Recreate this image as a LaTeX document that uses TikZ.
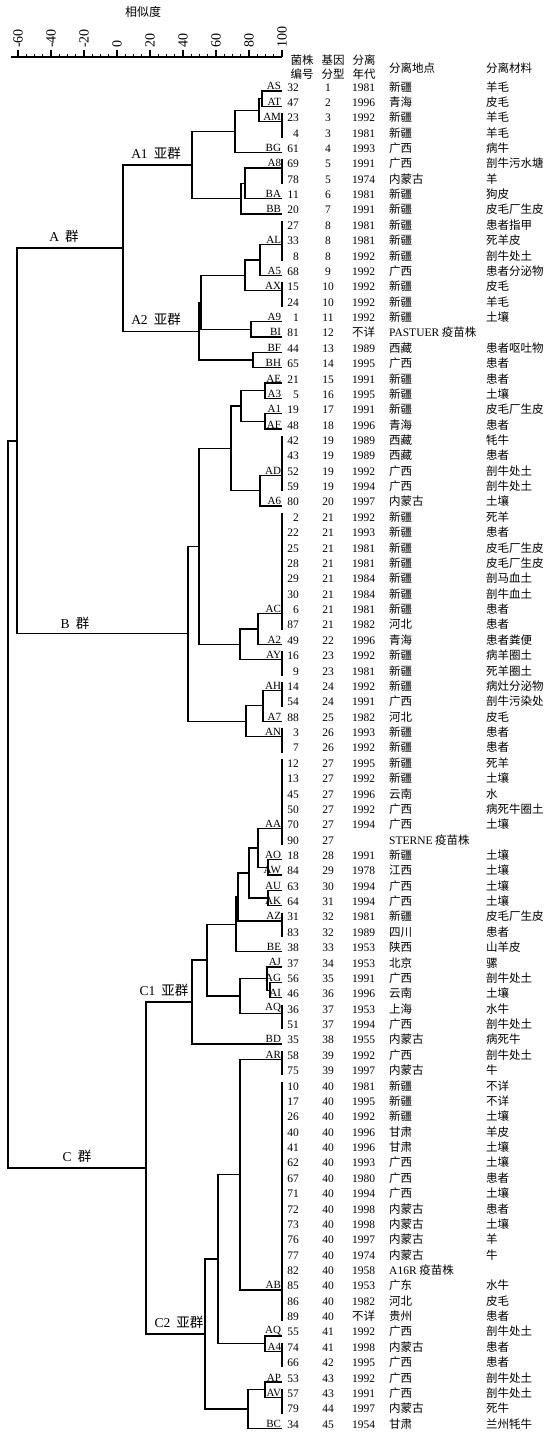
\documentclass[tikz,border=0pt]{standalone}
\usepackage{fontspec}
\setmainfont{Liberation Serif}
\newfontfamily\zh{Noto Sans CJK SC}
\begin{document}
\begin{tikzpicture}[x=1pt,y=-1pt,
  tree/.style={line width=1.3pt},
  leaflab/.style={anchor=south east,inner sep=0.8pt,font=\fontsize{11}{12}\selectfont},
  grplab/.style={anchor=south,inner sep=0pt,yshift=5pt,font=\fontsize{13.5}{15}\selectfont},
  numcol/.style={inner sep=0pt,font=\fontsize{11.5}{13}\selectfont},
  zhcol/.style={inner sep=0pt,anchor=base west,font=\fontsize{11.5}{13}\zh},
  head/.style={inner sep=0pt,align=center,font=\fontsize{11.5}{14}\zh},
  ticklab/.style={rotate=90,anchor=west,inner sep=0pt,font=\fontsize{14}{16}\selectfont}]
\useasboundingbox (0,0) rectangle (550,1433);

% similarity scale
\node[font=\fontsize{12}{14}\zh] (title) at (143,12) {相似度};
\draw[line width=1.8pt] (11,57) -- (282,57);
\foreach \s in {-60,-55,...,100}
  \draw[line width=1pt] ({117+1.65*(\s)},57) -- ++(0,-3);
\foreach \s [count=\k] in {-60,-40,...,100} {
  \draw[line width=1.2pt] ({117+1.65*(\s)},57) -- ++(0,-7);
  \node[ticklab] (tk\k) at ({117+1.65*(\s)},48) {\s};
}

% column heads
\node[head] (h1) at (302,67) {菌株\\编号};
\node[head] (h2) at (333,67) {基因\\分型};
\node[head] (h3) at (364,67) {分离\\年代};
\node[head,anchor=west] (h4) at (389,68) {分离地点};
\node[head,anchor=west] (h5) at (486,68) {分离材料};

\begin{scope}[yshift=-91pt,y=-15.37pt]
% strain table
\foreach \num/\gn/\yr/\pl/\mt [count=\k from 0] in {
  32/1/1981/新疆/羊毛, 47/2/1996/青海/皮毛, 23/3/1992/新疆/羊毛, 4/3/1981/新疆/羊毛,
  61/4/1993/广西/病牛, 69/5/1991/广西/剖牛污水塘, 78/5/1974/内蒙古/羊, 11/6/1981/新疆/狗皮,
  20/7/1991/新疆/皮毛厂生皮, 27/8/1981/新疆/患者指甲, 33/8/1981/新疆/死羊皮, 8/8/1992/新疆/剖牛处土,
  68/9/1992/广西/患者分泌物, 15/10/1992/新疆/皮毛, 24/10/1992/新疆/羊毛, 1/11/1992/新疆/土壤,
  81/12/{\zh 不详}/{\rmfamily PASTUER} 疫苗株/{}, 44/13/1989/西藏/患者呕吐物, 65/14/1995/广西/患者,
  21/15/1991/新疆/患者, 5/16/1995/新疆/土壤, 19/17/1991/新疆/皮毛厂生皮, 48/18/1996/青海/患者,
  42/19/1989/西藏/牦牛, 43/19/1989/西藏/患者, 52/19/1992/广西/剖牛处土, 59/19/1994/广西/剖牛处土,
  80/20/1997/内蒙古/土壤, 2/21/1992/新疆/死羊, 22/21/1993/新疆/患者, 25/21/1981/新疆/皮毛厂生皮,
  28/21/1981/新疆/皮毛厂生皮, 29/21/1984/新疆/剖马血土, 30/21/1984/新疆/剖牛血土, 6/21/1981/新疆/患者,
  87/21/1982/河北/患者, 49/22/1996/青海/患者粪便, 16/23/1992/新疆/病羊圈土, 9/23/1981/新疆/死羊圈土,
  14/24/1992/新疆/病灶分泌物, 54/24/1991/广西/剖牛污染处, 88/25/1982/河北/皮毛, 3/26/1993/新疆/患者,
  7/26/1992/新疆/患者, 12/27/1995/新疆/死羊, 13/27/1992/新疆/土壤, 45/27/1996/云南/水,
  50/27/1992/广西/病死牛圈土, 70/27/1994/广西/土壤, 90/27/{}/{\rmfamily STERNE} 疫苗株/{},
  18/28/1991/新疆/土壤, 84/29/1978/江西/土壤, 63/30/1994/广西/土壤, 64/31/1994/广西/土壤,
  31/32/1981/新疆/皮毛厂生皮, 83/32/1989/四川/患者, 38/33/1953/陕西/山羊皮, 37/34/1953/北京/骡,
  56/35/1991/广西/剖牛处土, 46/36/1996/云南/土壤, 36/37/1953/上海/水牛, 51/37/1994/广西/剖牛处土,
  35/38/1955/内蒙古/病死牛, 58/39/1992/广西/剖牛处土, 75/39/1997/内蒙古/牛, 10/40/1981/新疆/不详,
  17/40/1995/新疆/不详, 26/40/1992/新疆/土壤, 40/40/1996/甘肃/羊皮, 41/40/1996/甘肃/土壤,
  62/40/1993/广西/土壤, 67/40/1980/广西/患者, 71/40/1994/广西/土壤, 72/40/1998/内蒙古/患者,
  73/40/1998/内蒙古/土壤, 76/40/1997/内蒙古/羊, 77/40/1974/内蒙古/牛, 82/40/1958/{\rmfamily A16R} 疫苗株/{},
  85/40/1953/广东/水牛, 86/40/1982/河北/皮毛, 89/40/{\zh 不详}/贵州/患者, 55/41/1992/广西/剖牛处土,
  74/41/1998/内蒙古/患者, 66/42/1995/广西/患者, 53/43/1992/广西/剖牛处土, 57/43/1991/广西/剖牛处土,
  79/44/1997/内蒙古/死牛, 34/45/1954/甘肃/兰州牦牛} {
  \node[numcol,anchor=base east] (no\k) at (299,\k) {\num};
  \node[numcol,anchor=base] (gt\k) at (328,\k) {\gn};
  \node[numcol,anchor=base west] (yr\k) at (352,\k) {\yr};
  \node[zhcol] (pl\k) at (389,\k) {\pl};
  \node[zhcol] (mt\k) at (486,\k) {\mt};
}

% leaves: label/name/row/first row/last row
\foreach \lab/\nm/\rw/\rf/\rl in {AS/AS/0/0/0, AT/AT/1/1/1, AM/AM/2/2/3, BG/BG/4/4/4,
  A8/A8/5/5/6, BA/BA/7/7/7, BB/BB/8/8/8, AL/AL/10/9/11, A5/A5/12/12/12, AX/AX/13/13/14,
  A9/A9/15/15/15, BI/BI/16/16/16, BF/BF/17/17/17, BH/BH/18/18/18, AE/AE/19/19/19,
  A3/A3/20/20/20, A1/A1/21/21/21, AF/AF/22/22/22, AD/AD/25/23/26, A6/A6/27/27/27,
  AC/AC/34/28/35, A2/A2/36/36/36, AY/AY/37/37/38, AH/AH/39/39/40, A7/A7/41/41/41,
  AN/AN/42/42/43, AA/AA/48/44/49, AO/AO/50/50/50, AW/AW/51/51/51, AU/AU/52/52/52,
  AK/AK/53/53/53, AZ/AZ/54/54/55, BE/BE/56/56/56, AJ/AJ/57/57/57, AG/AG/58/58/58,
  AI/AI/59/59/59, AQ/AQ/60/60/61, BD/BD/62/62/62, AR/AR/63/63/64, AB/AB/78/65/80,
  AQ/AQb/81/81/81, A4/A4/82/82/83, AP/AP/84/84/84, AV/AV/85/85/86, BC/BC/87/87/87} {
  \coordinate (\nm) at (282,\rw);
  \node[leaflab] (lb\nm) at (\nm) {\lab};
  \ifnum\rf<\rl \draw[tree] (282,\rf-0.55) -- (282,\rl+0.05);\fi
}

% joins: name/x/row/upper child/lower child
\foreach \nm/\x/\rw/\ca/\cb in {n1/262/0.5/AS/AT, n2/259/1.25/n1/AM, n3/235/2.625/n2/BG,
  n4/245/6/A8/BA, n5/241/7/n4/BB, gA1/192/4.8125/n3/n5,
  n6/260/11/AL/A5, n7/245/12/n6/AX, n8/251/15.5/A9/BI, n9/253/17.5/BF/BH,
  n10/201/13.75/n7/n8, gA2/199/15.625/n10/n9, gA/123/10.21875/gA1/gA2,
  n11/265/19.5/AE/A3, n12/265/21.5/A1/AF, n13/241/20.5/n11/n12, n14/260/26/AD/A6,
  n15/231/23.25/n13/n14, n16/258/35/AC/A2, n17/240/36/n16/AY, n18/199/29.625/n15/n17,
  n19/263/40/AH/A7, n20/246/41/n19/AN, gB/188/35.3125/n18/n20, gAB/17/22.7656/gA/gB,
  n21/268/50.5/AO/AW, n22/258/49.25/AA/n21, n23/268/52.5/AU/AK, n24/249/50.875/n22/n23,
  n25/238/52.4375/n24/AZ, n26/236/54.2188/n25/BE, n27/270/58.5/AG/AI, n28/267/57.75/AJ/n27,
  n29/240/58.875/n28/AQ, n30/207/56.5469/n26/n29, gC1/192/59.2734/n30/BD,
  n31/240/70.5/AR/AB, n32/265/81.5/AQb/A4, n33/218/76/n31/n32,
  n34/265/84.5/AP/AV, n35/248/85.75/n34/BC, gC2/205/80.875/n33/n35,
  gC/146/70.0742/gC1/gC2, root/8/46.42/gAB/gC} {
  \coordinate (\nm) at (\x,\rw);
  \draw[tree] (\ca) -| (\nm) |- (\cb);
}

% cluster names
\node[grplab] (lA) at (64,10.21875) {A\hspace{6pt}{\zh 群}};
\node[grplab,yshift=-1pt] (lB) at (75,35.3125) {B\hspace{6pt}{\zh 群}};
\node[grplab] (lC) at (77,70.0742) {C\hspace{6pt}{\zh 群}};
\node[grplab] (lA1) at (156,4.8125) {A1\hspace{6pt}{\zh 亚群}};
\node[grplab] (lA2) at (156,15.625) {A2\hspace{6pt}{\zh 亚群}};
\node[grplab] (lC1) at (164,59.2734) {C1\hspace{6pt}{\zh 亚群}};
\node[grplab] (lC2) at (179,80.875) {C2\hspace{6pt}{\zh 亚群}};
\end{scope}
\end{tikzpicture}
\end{document}
